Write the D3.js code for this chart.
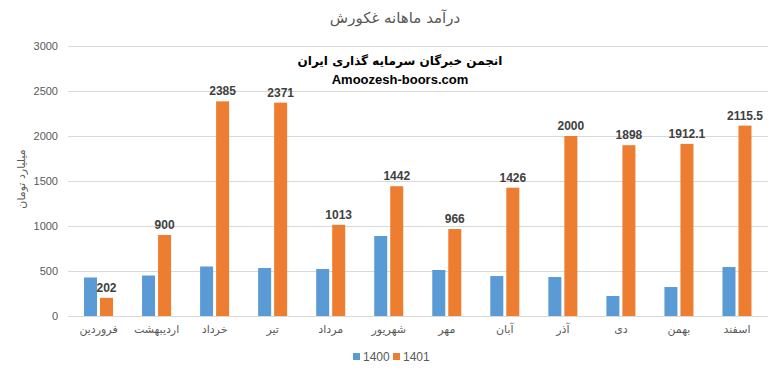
<!DOCTYPE html>
<html>
<head>
<meta charset="utf-8">
<script src="https://cdn.jsdelivr.net/npm/d3@7"></script>
<style>
  body { margin: 0; background: #fff; }
  svg { display: block; }
</style>
</head>
<body>
<div id="chart"></div>
<script>
// months of the year (Persian calendar)
const months = ["فروردین", "اردیبهشت", "خرداد", "تیر", "مرداد", "شهریور", "مهر", "آبان", "آذر", "دی", "بهمن", "اسفند"];
const series = ["1400", "1401"];
const values1400 = [428, 450, 550, 533, 522, 889, 511, 444, 433, 222, 322, 544];
const values1401 = [202, 900, 2385, 2371, 1013, 1442, 966, 1426, 2000, 1898, 1912.1, 2115.5];
const yTicks = [0, 500, 1000, 1500, 2000, 2500, 3000];
const colors = ["#5b9bd5", "#ed7d31"];

const width = 778, height = 378;
const margin = { top: 46, right: 12, bottom: 62, left: 69 };

const svg = d3.select("#chart").append("svg")
  .attr("width", width)
  .attr("height", height);

const x = d3.scaleBand()
  .domain(months)
  .range([margin.left + 0.5, width - margin.right])
  .paddingInner(0.5)
  .paddingOuter(0.25);

const xs = d3.scaleBand()
  .domain(series)
  .range([0, x.bandwidth()])
  .paddingInner(0.1875);

const y = d3.scaleLinear()
  .domain([0, 3000])
  .range([height - margin.bottom, margin.top]);

// gridlines
svg.append("g")
  .selectAll("line")
  .data(yTicks)
  .join("line")
  .attr("x1", margin.left - 1)
  .attr("x2", width - margin.right + 2)
  .attr("y1", d => Math.round(y(d)) + 0.5)
  .attr("y2", d => Math.round(y(d)) + 0.5)
  .attr("stroke", "#d9d9d9")
  .attr("stroke-width", 1);

// y axis labels
const yAxis = svg.append("g")
  .attr("transform", `translate(${margin.left - 11},0)`)
  .call(d3.axisLeft(y).tickValues(yTicks).tickFormat(d3.format("d")).tickSize(0).tickPadding(0));
yAxis.select(".domain").remove();
yAxis.selectAll("text")
  .style("font", "11px 'Liberation Sans', sans-serif")
  .attr("fill", "#595959");

// x axis labels
const xAxis = svg.append("g")
  .attr("transform", `translate(0,${height - margin.bottom})`)
  .call(d3.axisBottom(x).tickSize(0).tickPadding(9));
xAxis.select(".domain").remove();
xAxis.selectAll("text")
  .style("font", "11px 'DejaVu Sans', sans-serif")
  .attr("fill", "#595959");

// bars
const rows = months.map((m, i) => ({ month: m, vals: [values1400[i], values1401[i]] }));

const groups = svg.append("g")
  .selectAll("g")
  .data(rows)
  .join("g")
  .attr("transform", d => `translate(${x(d.month)},0)`);

groups.selectAll("rect")
  .data(d => d.vals.map((v, j) => ({ key: series[j], value: v, idx: j })))
  .join("rect")
  .attr("x", d => xs(d.key))
  .attr("y", d => y(d.value))
  .attr("width", xs.bandwidth())
  .attr("height", d => y(0) - y(d.value))
  .attr("fill", d => colors[d.idx]);

// labels on the 1401 bars
groups.append("text")
  .attr("x", xs("1401") + xs.bandwidth() / 2)
  .attr("y", d => y(d.vals[1]) - 6)
  .attr("text-anchor", "middle")
  .style("font", "bold 12px 'Liberation Sans', sans-serif")
  .attr("fill", "#404040")
  .text(d => d.vals[1]);

// title
svg.append("text")
  .attr("x", 395)
  .attr("y", 23)
  .attr("text-anchor", "middle")
  .style("font", "15px 'DejaVu Sans', sans-serif")
  .attr("fill", "#595959")
  .text("درآمد ماهانه غکورش");

// watermark
svg.append("text")
  .attr("x", 400)
  .attr("y", 65)
  .attr("text-anchor", "middle")
  .style("font", "bold 12px 'DejaVu Sans', sans-serif")
  .attr("fill", "#000")
  .text("انجمن خبرگان سرمایه گذاری ایران");

svg.append("text")
  .attr("x", 400)
  .attr("y", 84)
  .attr("text-anchor", "middle")
  .style("font", "bold 13px 'Liberation Sans', sans-serif")
  .attr("fill", "#000")
  .text("Amoozesh-boors.com");

// y axis title
svg.append("text")
  .attr("transform", `translate(25,${y(1500) - 2}) rotate(-90)`)
  .attr("text-anchor", "middle")
  .style("font", "11px 'DejaVu Sans', sans-serif")
  .attr("fill", "#595959")
  .text("میلیارد تومان");

// legend
const legend = svg.append("g")
  .attr("transform", "translate(353,353)");
const items = legend.selectAll("g")
  .data(series)
  .join("g")
  .attr("transform", (d, i) => `translate(${i * 40},0)`);
items.append("rect")
  .attr("width", 7)
  .attr("height", 7)
  .attr("fill", (d, i) => colors[i]);
items.append("text")
  .attr("x", 10)
  .attr("y", 7.5)
  .style("font", "12px 'Liberation Sans', sans-serif")
  .attr("fill", "#595959")
  .text(d => d);
</script>
</body>
</html>
